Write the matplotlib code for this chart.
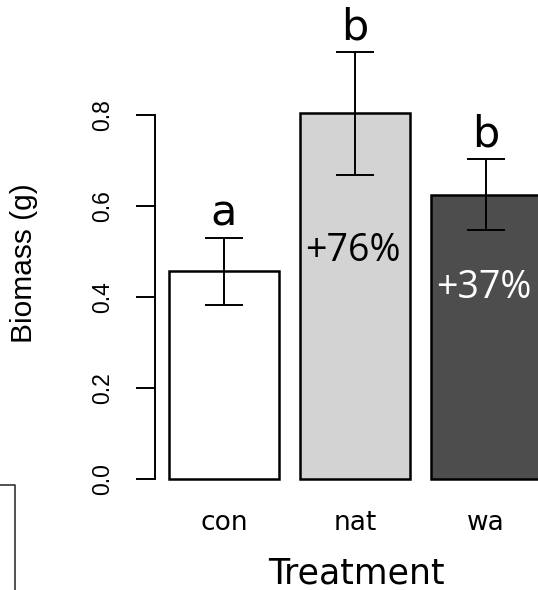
import numpy as np
import matplotlib
matplotlib.use("Agg")
import matplotlib.pyplot as plt
from matplotlib.lines import Line2D

# biomass per treatment
treatments = ["con", "nat", "wa"]
biomass = [0.457, 0.804, 0.624]
err_low = [0.382, 0.668, 0.547]
err_high = [0.530, 0.938, 0.703]
letters = ["a", "b", "b"]
change = ["", "+76%", "+37%"]
colors = ["white", "#d3d3d3", "#4d4d4d"]
text_colors = ["black", "black", "white"]

W, H = 538, 590
fig = plt.figure(figsize=(W / 100, H / 100), dpi=100)

# axes: left edge at the y-axis line, bottom at y = 0
ax_left, ax_bottom = 155, 479
ax = fig.add_axes([ax_left / W, (H - ax_bottom) / H, (W - ax_left) / W, ax_bottom / H])

px_x = 109.17  # pixels per x unit
px_y = 455.0   # pixels per y unit
x = np.array([1.2, 2.4, 3.6])
ax.set_xlim(1.2 - (224 - ax_left) / px_x, 1.2 + (W - 224) / px_x)
ax.set_ylim(0, ax_bottom / px_y)

bars = ax.bar(x, biomass, width=1.0, color=colors, edgecolor="black",
              linewidth=1.8, zorder=2)
for b in bars:
    b.set_clip_on(False)

b_arr = np.array(biomass)
yerr = [b_arr - np.array(err_low), np.array(err_high) - b_arr]
ax.errorbar(x, biomass, yerr=yerr, fmt="none", ecolor="black",
            elinewidth=1.4, capsize=14, capthick=1.4, zorder=3)

# significance letters above the bars
for xi, hi, lt in zip(x, err_high, letters):
    ax.text(xi, hi + 0.008, lt, ha="center", va="bottom",
            fontsize=31, family="DejaVu Sans", color="black")

# percent change inside bars
pct_y = {"+76%": 0.502, "+37%": 0.419}
for xi, lab, tc in zip(x, change, text_colors):
    if lab:
        ax.text(xi - 0.02, pct_y[lab], lab, ha="center", va="center",
                fontsize=27, family="Open Sans", color=tc)

for s in ["top", "right", "bottom"]:
    ax.spines[s].set_visible(False)
ax.spines["left"].set_bounds(0, 0.8)
ax.spines["left"].set_linewidth(1.4)

ax.set_yticks([0.0, 0.2, 0.4, 0.6, 0.8])
ax.set_yticklabels(["0.0", "0.2", "0.4", "0.6", "0.8"], rotation=90,
                   va="center", family="Liberation Sans", fontsize=16.5)
ax.tick_params(axis="y", length=13.7, width=1.4, pad=16)

ax.set_xticks(x)
ax.set_xticklabels(treatments, family="DejaVu Sans", fontsize=19)
ax.tick_params(axis="x", length=0, pad=22)

fig.text(356 / W, 1 - 573 / H, "Treatment", ha="center", va="center",
         family="DejaVu Sans", fontsize=25)
fig.text(24 / W, 1 - 263 / H, "Biomass (g)", ha="center", va="center",
         rotation=90, family="Liberation Sans", fontsize=21.5)

# fragment of the neighbouring panel at the lower left
fig.add_artist(Line2D([0, 15 / W, 15 / W], [1 - 485 / H, 1 - 485 / H, 0],
                      color="#333333", linewidth=1.2))

fig.savefig("out.png", dpi=100)
